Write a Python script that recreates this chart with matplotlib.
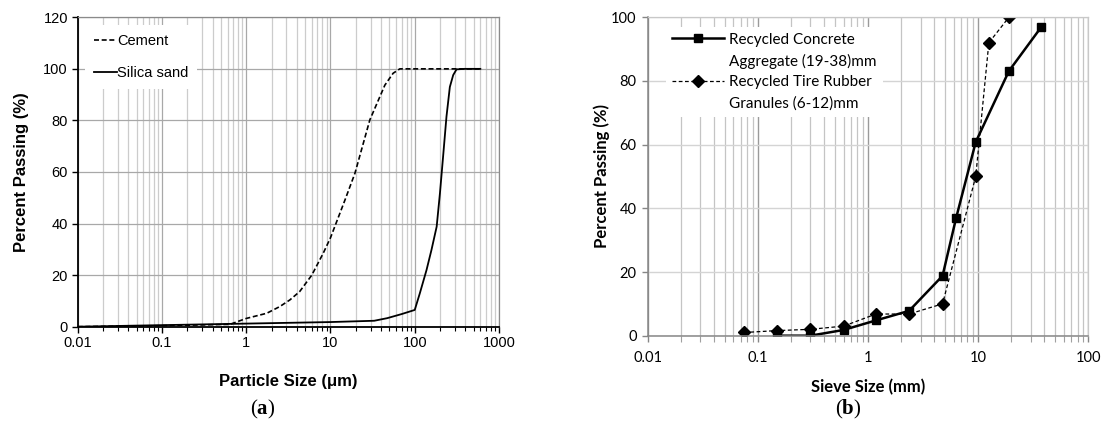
import matplotlib
matplotlib.use('Agg')
import matplotlib.pyplot as plt
from matplotlib.lines import Line2D
from matplotlib.ticker import FixedLocator, FixedFormatter, LogLocator, NullFormatter

# Particle size distributions

#=====================================================================
#     Data
#
# (a) cement and silica sand, particle size in micrometres
cementSize = [0.01, 0.1, 0.3, 0.64, 1.0, 1.75, 2.5, 3.3, 4.3, 6.0, 8.2, 10.0,
              14.8, 19.5, 29.3, 44.2, 55.4, 66.5, 100, 300, 600]
cementPass = [0.0, 0.4, 0.7, 0.9, 3.2, 5.2, 7.8, 10.4, 13.6, 20.0, 28.5, 34.5,
              49.0, 59.5, 80.2, 93.7, 98.3, 100, 100, 100, 100]

silicaSize = [0.01, 0.1, 1.0, 10.0, 33, 47, 70, 100, 115, 138, 158, 182, 199,
              217, 238, 261, 286, 313, 390, 600]
silicaPass = [0.0, 0.6, 1.2, 1.8, 2.3, 3.3, 4.9, 6.5, 13.0, 22.0, 29.8, 38.8,
              51.7, 66.0, 81.5, 93.0, 97.6, 99.8, 100, 100]

# (b) recycled materials, sieve size in mm
rcaSieve = [0.15, 0.3, 0.6, 1.18, 2.36, 4.75, 6.3, 9.5, 19.0, 37.5]
rcaPass  = [0.0, 0.0, 1.8, 4.8, 7.8, 18.8, 36.9, 60.8, 83.1, 97.0]

rubSieve = [0.075, 0.15, 0.3, 0.6, 1.18, 2.36, 4.75, 9.5, 12.5, 19.0]
rubPass  = [1.0, 1.6, 2.0, 3.0, 6.8, 6.8, 10.0, 50.0, 92.0, 100.0]

ticksA  = [0.01, 0.1, 1, 10, 100, 1000]
labelsA = ['0.01', '0.1', '1', '10', '100', '1000']
ticksB  = [0.01, 0.1, 1, 10, 100]
labelsB = ['0.01', '0.1', '1', '10', '100']

legendA = ['Cement', 'Silica sand']
legendB = ['Recycled Concrete', 'Aggregate (19-38)mm',
           'Recycled Tire Rubber', 'Granules (6-12)mm']
#=====================================================================


plt.rcParams['mathtext.fontset'] = 'custom'
plt.rcParams['mathtext.rm'] = 'Liberation Serif'
plt.rcParams['mathtext.bf'] = 'Liberation Serif:bold'

fig = plt.figure(figsize=(11.04, 4.28), dpi=100)

#=====================================================================
#     (a)
#
fa = 'Liberation Sans'
ax1 = fig.add_axes([0.0704, 0.2367, 0.3816, 0.7229])
ax1.plot(cementSize, cementPass, color='k', lw=1.2, ls=(0, (3, 1.6)), label=legendA[0])
ax1.plot(silicaSize, silicaPass, color='k', lw=1.3, label=legendA[1])
ax1.set_xscale('log')
ax1.set_xlim(0.01, 1000)
ax1.set_ylim(0, 120)
ax1.set_yticks(range(0, 121, 20))
ax1.xaxis.set_major_locator(FixedLocator(ticksA))
ax1.xaxis.set_major_formatter(FixedFormatter(labelsA))
ax1.xaxis.set_minor_locator(LogLocator(base=10, subs=range(2, 10)))
ax1.xaxis.set_minor_formatter(NullFormatter())
ax1.grid(which='major', color='#a8a8a8', lw=0.9)
ax1.grid(which='minor', axis='x', color='#cccccc', lw=0.9)
ax1.set_axisbelow(True)
for s in ['top', 'right']:
    ax1.spines[s].set_color('#8a8a8a')
    ax1.spines[s].set_linewidth(0.9)
for s in ['left', 'bottom']:
    ax1.spines[s].set_color('k')
    ax1.spines[s].set_linewidth(1.3)
ax1.tick_params(which='major', direction='out', length=4, width=1, labelsize=10.5, pad=3)
ax1.tick_params(which='minor', direction='out', length=3, width=0.8)
for lab in ax1.get_xticklabels() + ax1.get_yticklabels():
    lab.set_fontfamily(fa)
ax1.set_xlabel('Particle Size (μm)', fontsize=12, fontweight='bold', family=fa, labelpad=17)
ax1.set_ylabel('Percent Passing (%)', fontsize=12, fontweight='bold', family=fa, labelpad=10)
leg1 = ax1.legend(loc='upper left', bbox_to_anchor=(0.0, 0.998), prop={'family': fa, 'size': 10.5},
                  handlelength=1.6, handletextpad=0.0, labelspacing=1.25, borderpad=0.6,
                  frameon=True, fancybox=False, framealpha=1, edgecolor='none', borderaxespad=0.5)

#=====================================================================
#     (b)
#
fb = ['Lato', 'DejaVu Sans']
ax2 = fig.add_axes([0.5867, 0.2157, 0.3991, 0.7439])
l1, = ax2.plot(rcaSieve, rcaPass, color='k', lw=1.8, marker='s', ms=5.5)
l2, = ax2.plot(rubSieve, rubPass, color='k', lw=0.9, ls=(0, (3, 2)), marker='D', ms=6)
ax2.set_xscale('log')
ax2.set_xlim(0.01, 100)
ax2.set_ylim(0, 100)
ax2.set_yticks(range(0, 101, 20))
ax2.xaxis.set_major_locator(FixedLocator(ticksB))
ax2.xaxis.set_major_formatter(FixedFormatter(labelsB))
ax2.xaxis.set_minor_locator(LogLocator(base=10, subs=range(2, 10)))
ax2.xaxis.set_minor_formatter(NullFormatter())
ax2.grid(which='major', axis='x', color='#9a9a9a', lw=1.0)
ax2.grid(which='major', axis='y', color='#d4d4d4', lw=1.0)
ax2.grid(which='minor', axis='x', color='#c4c4c4', lw=0.9)
ax2.set_axisbelow(True)
for s in ['top', 'right']:
    ax2.spines[s].set_color('#c8c8c8')
    ax2.spines[s].set_linewidth(0.9)
for s in ['left', 'bottom']:
    ax2.spines[s].set_color('#868686')
    ax2.spines[s].set_linewidth(1.1)
ax2.tick_params(which='major', direction='out', length=4, width=1, color='#868686', labelsize=10.5)
ax2.tick_params(axis='x', which='major', pad=7)
ax2.tick_params(axis='y', which='major', pad=4)
ax2.tick_params(which='minor', direction='out', length=4, width=0.8, color='#a0a0a0')
for lab in ax2.get_xticklabels() + ax2.get_yticklabels():
    lab.set_fontfamily(fb)
ax2.set_xlabel('Sieve Size (mm)', fontsize=12, fontweight='bold', family=fb, labelpad=10)
ax2.set_ylabel('Percent Passing (%)', fontsize=12, fontweight='bold', family=fb, labelpad=1)
blank = Line2D([], [], color='none')
leg2 = ax2.legend([l1, blank, l2, blank], legendB, loc='upper left', bbox_to_anchor=(0.025, 0.995),
                  prop={'family': fb, 'size': 11}, handlelength=3.4, handletextpad=0.3,
                  labelspacing=0.45, borderpad=0.4, frameon=True, fancybox=False,
                  framealpha=1, edgecolor='none', borderaxespad=0.5)

#=====================================================================
#     Panel letters
#
fig.text(0.238, 0.043, r'$\mathrm{(}\mathbf{a}\mathrm{)}$', fontsize=15, ha='center', va='center')
fig.text(0.768, 0.043, r'$\mathrm{(}\mathbf{b}\mathrm{)}$', fontsize=15, ha='center', va='center')

plt.savefig('out.png', dpi=100)
#=====================================================================
